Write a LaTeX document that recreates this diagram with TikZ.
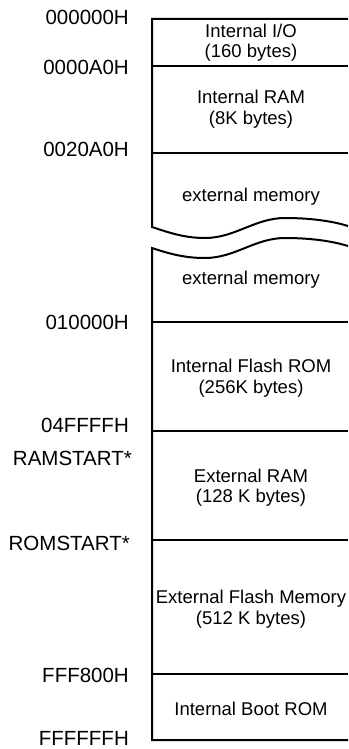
\documentclass[tikz,border=0pt]{standalone}
\usepackage{fontspec}
\setmainfont{Liberation Sans}
\begin{document}
\begin{tikzpicture}[x=1pt,y=-1pt,
  edge/.style={line width=2pt,line cap=butt,line join=miter},
  addr/.style={anchor=base east,inner sep=0pt,font=\fontsize{20.5}{23}\selectfont},
  txt/.style={anchor=base,inner sep=0pt,font=\fontsize{18.5}{21}\selectfont}]
\useasboundingbox (0,0) rectangle (348,749);
% frame upper part
\draw[edge] (348,19) -- (152,19) -- (152,227)
  .. controls (170,233) and (185,238) .. (205,238)
  .. controls (235,238) and (255,218) .. (285,218)
  .. controls (310,218) and (332,221) .. (348,226);
% frame lower part
\draw[edge] (348,246)
  .. controls (332,241) and (310,238) .. (285,238)
  .. controls (255,238) and (235,258) .. (205,258)
  .. controls (185,258) and (170,254) .. (152,248)
  -- (152,740) -- (348,740);
% separators
\foreach \yy in {66,153,322,431,540,674}
  \draw[edge] (152,\yy) -- (348,\yy);
% addresses
\node[addr] (a0) at (129,25) {000000H};
\node[addr] (a1) at (129,75) {0000A0H};
\node[addr] (a2) at (129,157) {0020A0H};
\node[addr] (a3) at (129,329) {010000H};
\node[addr] (a4) at (129,432) {04FFFFH};
\node[addr] (a5) at (132,465) {RAMSTART*};
\node[addr] (a6) at (130,550) {ROMSTART*};
\node[addr] (a7) at (129,682) {FFF800H};
\node[addr] (a8) at (129,745) {FFFFFFH};
% region texts
\node[txt] (t1a) at (251,37.5) {Internal I/O};
\node[txt] (t1b) at (251,58) {(160 bytes)};
\node[txt] (t2a) at (251,104) {Internal RAM};
\node[txt] (t2b) at (251,124.5) {(8K bytes)};
\node[txt] (t3) at (251,201) {external memory};
\node[txt] (t4) at (251,284) {external memory};
\node[txt] (t5a) at (251,372) {Internal Flash ROM};
\node[txt] (t5b) at (251,393) {(256K bytes)};
\node[txt] (t6a) at (251,482) {External RAM};
\node[txt] (t6b) at (251,502) {(128 K bytes)};
\node[txt] (t7a) at (251,603) {External Flash Memory};
\node[txt] (t7b) at (251,624) {(512 K bytes)};
\node[txt] (t8) at (251,715) {Internal Boot ROM};
\end{tikzpicture}
\end{document}
